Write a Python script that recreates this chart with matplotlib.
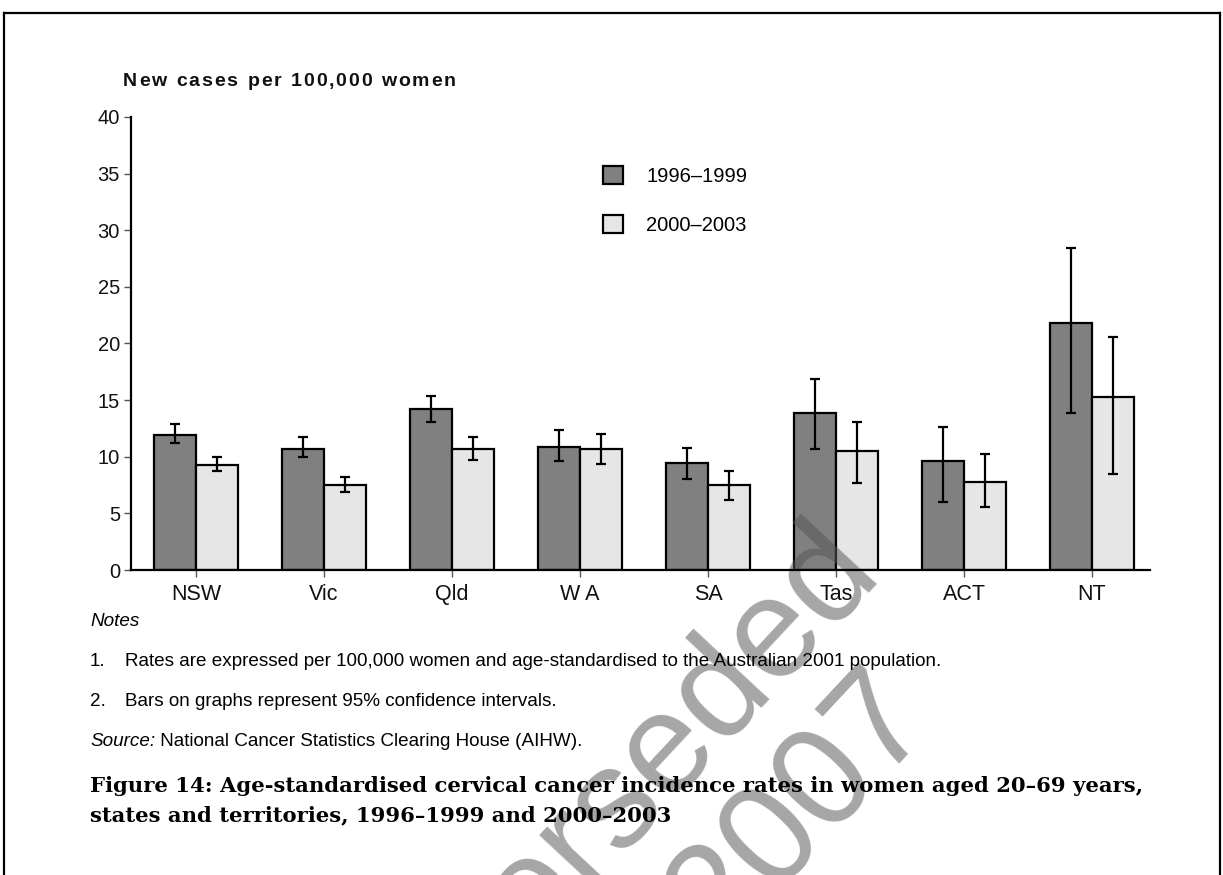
import matplotlib
matplotlib.use('Agg')
import matplotlib.pyplot as plt
import numpy as np
from matplotlib.lines import Line2D

# ---------------- data ----------------
categories = ['NSW', 'Vic', 'Qld', 'W A', 'SA', 'Tas', 'ACT', 'NT']
series_labels = ['1996–1999', '2000–2003']
rate_1996_1999 = [11.9, 10.7, 14.2, 10.9, 9.45, 13.9, 9.65, 21.8]
low_1996_1999 = [11.2, 10.0, 13.1, 9.6, 8.0, 10.65, 6.0, 13.9]
high_1996_1999 = [12.85, 11.7, 15.4, 12.4, 10.8, 16.9, 12.6, 28.4]
rate_2000_2003 = [9.3, 7.5, 10.7, 10.7, 7.5, 10.5, 7.75, 15.3]
low_2000_2003 = [8.7, 6.9, 9.75, 9.4, 6.2, 7.7, 5.6, 8.5]
high_2000_2003 = [10.0, 8.2, 11.7, 12.0, 8.7, 13.1, 10.2, 20.6]
yticks = [0, 5, 10, 15, 20, 25, 30, 35, 40]
ylabel = 'New cases per 100,000 women'
note_lines = ['Rates are expressed per 100,000 women and age-standardised to the Australian 2001 population.',
              'Bars on graphs represent 95% confidence intervals.']
source_text = ' National Cancer Statistics Clearing House (AIHW).'
caption_lines = ['Figure 14: Age-standardised cervical cancer incidence rates in women aged 20–69 years,',
                 'states and territories, 1996–1999 and 2000–2003']

# ---------------- figure ----------------
W, H = 1223, 875
fig = plt.figure(figsize=(W / 100, H / 100), dpi=100)
plt.rcParams['font.family'] = ['Liberation Sans', 'DejaVu Sans']

def fx(x):
    return x / W

def fy(y):
    return 1 - y / H

ax = fig.add_axes([fx(131), fy(570), fx(1150) - fx(131), fy(117) - fy(570)])

x = np.arange(len(categories))
bw = 0.328
dark = '#808080'
light = '#e6e6e6'
r1 = np.array(rate_1996_1999); r2 = np.array(rate_2000_2003)
b1 = ax.bar(x - bw / 2, r1, bw, color=dark, edgecolor='black', linewidth=1.6, label=series_labels[0], zorder=1)
b2 = ax.bar(x + bw / 2, r2, bw, color=light, edgecolor='black', linewidth=1.6, label=series_labels[1], zorder=1)
ax.errorbar(x - bw / 2, r1, yerr=[r1 - np.array(low_1996_1999), np.array(high_1996_1999) - r1],
            fmt='none', ecolor='black', elinewidth=1.6, capsize=3.8, capthick=1.6, zorder=2)
ax.errorbar(x + bw / 2, r2, yerr=[r2 - np.array(low_2000_2003), np.array(high_2000_2003) - r2],
            fmt='none', ecolor='black', elinewidth=1.6, capsize=3.8, capthick=1.6, zorder=2)

ax.set_xlim(-0.508, 7.453)
ax.set_ylim(0, 40)
ax.set_yticks(yticks)
ax.set_yticklabels([str(v) for v in yticks])
ax.set_xticks(x)
ax.set_xticklabels(categories)
ax.spines['top'].set_visible(False)
ax.spines['right'].set_visible(False)
ax.spines['left'].set_linewidth(1.6)
ax.spines['bottom'].set_linewidth(1.6)
ax.tick_params(axis='y', direction='out', length=5, width=1, color='#555555', labelsize=14.5, pad=3, labelcolor='#111111')
ax.tick_params(axis='x', direction='out', length=5, width=1, color='#555555', labelsize=15.5, pad=5, labelcolor='#111111')

leg = ax.legend(handles=[b1, b2], labels=series_labels, loc='upper left',
                bbox_to_anchor=(fx(603), fy(166)), bbox_transform=fig.transFigure,
                frameon=False, fontsize=14.5, handlelength=1.0, handleheight=1.0,
                handletextpad=1.15, labelspacing=1.45, borderpad=0, borderaxespad=0)

renderer = fig.canvas.get_renderer()

# letter-spaced bold y label
def spaced_text(xpx, ypx, s, spacing, **kw):
    cur = xpx
    for ch in s:
        if ch == ' ':
            t = fig.text(fx(cur), fy(ypx), 'x', alpha=0, **kw)
            w = t.get_window_extent(renderer).width * 0.55
            t.remove()
        else:
            t = fig.text(fx(cur), fy(ypx), ch, va='baseline', ha='left', **kw)
            w = t.get_window_extent(renderer).width
        cur += w + spacing

spaced_text(123, 86, ylabel, 1.8, fontsize=14, fontweight='bold', color='#111111')

# notes
nfs = 12
t1 = fig.text(fx(125), fy(662), note_lines[0], fontsize=nfs, va='center', ha='left', zorder=5)
w1 = t1.get_window_extent(renderer).width
nfs = nfs * (947 - 125) / w1
t1.set_fontsize(nfs)
fig.text(fx(90), fy(621), 'Notes', fontsize=nfs, style='italic', va='center', ha='left', zorder=5)
fig.text(fx(90), fy(662), '1.', fontsize=nfs, va='center', ha='left', zorder=5)
fig.text(fx(90), fy(701), '2.', fontsize=nfs, va='center', ha='left', zorder=5)
fig.text(fx(125), fy(701), note_lines[1], fontsize=nfs, va='center', ha='left', zorder=5)
ts = fig.text(fx(90), fy(742), 'Source:', fontsize=nfs, style='italic', va='center', ha='left', zorder=5)
ws = ts.get_window_extent(renderer).width
fig.text(fx(90 + ws), fy(742), source_text, fontsize=nfs, va='center', ha='left', zorder=5)

# caption
c1 = fig.text(fx(90), fy(786), caption_lines[0], fontsize=15, fontweight='bold',
              family='DejaVu Serif', va='center', ha='left', zorder=5)
wc = c1.get_window_extent(renderer).width
cfs = 15 * (1147 - 90) / wc
c1.set_fontsize(cfs)
fig.text(fx(90), fy(815), caption_lines[1], fontsize=cfs, fontweight='bold',
         family='DejaVu Serif', va='center', ha='left', zorder=5)

# watermark (between bars and axis labels)
wm_kw = dict(transform=fig.transFigure, clip_on=False, color='#565656', alpha=0.53,
             fontsize=102, rotation=47, rotation_mode='anchor', zorder=1.2)
ax.text(fx(882), fy(572), 'Superseded', ha='right', va='baseline', **wm_kw)
ax.text(fx(800), fy(808), '2007', ha='center', va='center', **wm_kw)

# page frame
for (xs, ys) in [([4, 4], [13, 875]), ([4, 1220], [13, 13]), ([1220, 1220], [13, 875])]:
    fig.add_artist(Line2D([fx(v) for v in xs], [fy(v) for v in ys], color='black', linewidth=1.6,
                          transform=fig.transFigure))

fig.savefig('out.png', dpi=100)
